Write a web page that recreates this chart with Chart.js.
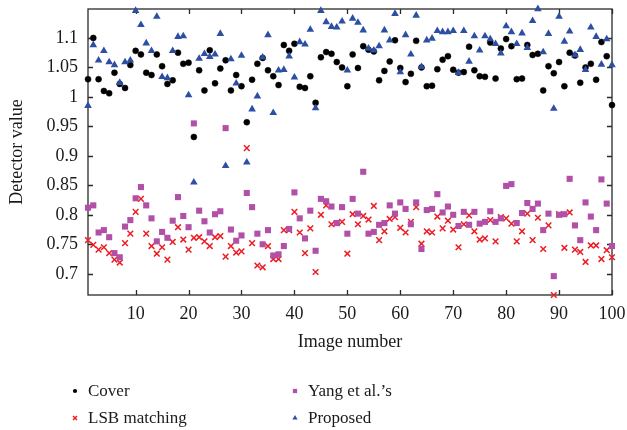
<!DOCTYPE html>
<html>
<head>
<meta charset="utf-8">
<script src="https://cdn.jsdelivr.net/npm/chart.js@4"></script>
<style>
  html, body { margin: 0; padding: 0; background: #fff; }
  #wrap { width: 627px; height: 430px; position: relative; }
</style>
</head>
<body>
<div id="wrap"><canvas id="chartCanvas"></canvas></div>
<script>
// image index 1..100 on the x axis
const imageNumbers = Array.from({ length: 100 }, (_, i) => i + 1);

const seriesNames = ["Cover", "LSB matching", "Yang et al.\u2019s", "Proposed"];

const cover = [
  1.030, 1.100, 1.030, 1.010, 1.006, 1.041, 1.022, 1.015, 1.054, 1.078,
  1.072, 1.041, 1.037, 1.072, 1.052, 1.022, 1.028, 1.075, 1.056, 1.058,
  0.932, 1.045, 1.011, 1.079, 1.023, 1.048, 1.062, 1.011, 1.037, 1.018,
  0.957, 1.029, 1.056, 1.066, 1.045, 1.035, 1.020, 1.088, 1.078, 1.090,
  1.017, 1.015, 1.035, 0.990, 1.067, 1.076, 1.073, 1.059, 1.050, 1.018,
  1.072, 1.049, 1.086, 1.080, 1.077, 1.028, 1.044, 1.060, 1.096, 1.049,
  1.025, 1.039, 1.095, 1.050, 1.018, 1.019, 1.047, 1.063, 1.069, 1.046,
  1.041, 1.042, 1.085, 1.045, 1.035, 1.034, 1.092, 1.031, 1.082, 1.098,
  1.086, 1.030, 1.031, 1.088, 1.071, 1.073, 1.011, 1.052, 1.040, 1.059,
  1.018, 1.075, 1.070, 1.024, 1.050, 1.056, 1.029, 1.093, 1.069, 0.986
];

const lsbMatching = [
  0.757, 0.749, 0.741, 0.745, 0.735, 0.724, 0.719, 0.752, 0.768, 0.805,
  0.827, 0.768, 0.747, 0.734, 0.745, 0.724, 0.754, 0.779, 0.758, 0.741,
  0.761, 0.762, 0.755, 0.747, 0.762, 0.764, 0.729, 0.747, 0.736, 0.738,
  0.913, 0.752, 0.714, 0.711, 0.747, 0.725, 0.725, 0.774, 0.774, 0.805,
  0.770, 0.735, 0.777, 0.703, 0.800, 0.816, 0.784, 0.786, 0.788, 0.734,
  0.801, 0.784, 0.798, 0.792, 0.815, 0.757, 0.772, 0.793, 0.796, 0.778,
  0.770, 0.788, 0.813, 0.751, 0.772, 0.770, 0.797, 0.777, 0.790, 0.775,
  0.745, 0.784, 0.799, 0.772, 0.758, 0.760, 0.791, 0.755, 0.796, 0.794,
  0.785, 0.755, 0.772, 0.802, 0.757, 0.795, 0.742, 0.782, 0.664, 0.801,
  0.744, 0.804, 0.741, 0.737, 0.720, 0.748, 0.748, 0.725, 0.740, 0.728
];

const yang = [
  0.812, 0.816, 0.770, 0.774, 0.762, 0.735, 0.728, 0.780, 0.791, 0.828,
  0.847, 0.816, 0.794, 0.755, 0.771, 0.761, 0.790, 0.830, 0.798, 0.779,
  0.955, 0.807, 0.789, 0.770, 0.801, 0.806, 0.947, 0.775, 0.756, 0.765,
  0.837, 0.813, 0.768, 0.750, 0.774, 0.731, 0.733, 0.747, 0.776, 0.838,
  0.794, 0.760, 0.807, 0.739, 0.827, 0.823, 0.814, 0.786, 0.813, 0.768,
  0.827, 0.802, 0.873, 0.768, 0.771, 0.783, 0.786, 0.816, 0.802, 0.821,
  0.810, 0.784, 0.821, 0.742, 0.808, 0.810, 0.835, 0.804, 0.814, 0.800,
  0.781, 0.805, 0.783, 0.805, 0.785, 0.788, 0.806, 0.788, 0.794, 0.849,
  0.852, 0.786, 0.803, 0.820, 0.810, 0.819, 0.774, 0.802, 0.696, 0.800,
  0.801, 0.861, 0.782, 0.757, 0.821, 0.797, 0.774, 0.860, 0.819, 0.747
];

const proposed = [
  0.985, 1.088, 1.062, 1.078, 1.059, 1.054, 1.024, 1.059, 1.062, 1.146,
  1.122, 1.091, 1.078, 1.136, 1.034, 1.032, 1.078, 1.102, 1.103, 1.003,
  0.855, 1.065, 1.073, 1.068, 1.072, 1.107, 0.883, 1.064, 1.023, 1.070,
  0.889, 0.979, 1.001, 1.067, 1.105, 0.973, 1.045, 1.046, 1.069, 1.033,
  1.093, 1.089, 1.114, 0.981, 1.146, 1.127, 1.119, 1.118, 1.128, 1.045,
  1.133, 1.126, 1.113, 1.082, 1.079, 1.086, 1.113, 1.096, 1.141, 1.042,
  1.105, 1.072, 1.138, 1.051, 1.096, 1.099, 1.112, 1.110, 1.110, 1.112,
  1.041, 1.112, 1.060, 1.103, 1.079, 1.103, 1.098, 1.090, 1.074, 1.120,
  1.110, 1.090, 1.108, 1.083, 1.129, 1.149, 1.076, 1.107, 0.980, 1.136,
  1.094, 1.111, 1.071, 1.080, 1.046, 1.118, 1.102, 1.055, 1.098, 1.054
];

const xTicks = [10, 20, 30, 40, 50, 60, 70, 80, 90, 100];
const yTicks = [0.7, 0.75, 0.8, 0.85, 0.9, 0.95, 1, 1.05, 1.1];
const yTickLabels = ["0.7", "0.75", "0.8", "0.85", "0.9", "0.95", "1", "1.05", "1.1"];

const FONT = "'Liberation Serif', 'DejaVu Serif', serif";
const AXIS = "#2a2a2a";
const TEXT = "#1a1a1a";

const toPoints = vals => imageNumbers.map((n, i) => ({ x: n, y: vals[i] }));

const styles = [
  { pointStyle: "circle", radius: 3, bg: "#000000", border: "#000000", bw: 0.5 },
  { pointStyle: "crossRot", radius: 4, bg: "#ec1c24", border: "#ec1c24", bw: 1.5 },
  { pointStyle: "rect", radius: 4.3, bg: "#b24fa6", border: "#b24fa6", bw: 0 },
  { pointStyle: "triangle", radius: 4.4, bg: "#2c4ea3", border: "#2c4ea3", bw: 0 },
];

// frame round the plot with the small inward ticks
const framePlugin = {
  id: "frame",
  beforeDatasetsDraw(chart) {
    const { ctx, chartArea: a, scales } = chart;
    ctx.save();
    ctx.strokeStyle = AXIS;
    ctx.lineWidth = 1.3;
    ctx.strokeRect(a.left, a.top, a.right - a.left, a.bottom - a.top);
    ctx.beginPath();
    xTicks.forEach(v => {
      const px = Math.round(scales.x.getPixelForValue(v)) + 0.5;
      ctx.moveTo(px, a.bottom); ctx.lineTo(px, a.bottom - 5);
      ctx.moveTo(px, a.top); ctx.lineTo(px, a.top + 5);
    });
    yTicks.forEach(v => {
      const py = Math.round(scales.y.getPixelForValue(v)) + 0.5;
      ctx.moveTo(a.left, py); ctx.lineTo(a.left + 5, py);
      ctx.moveTo(a.right, py); ctx.lineTo(a.right - 5, py);
    });
    ctx.stroke();
    ctx.restore();
  }
};

// two-column legend under the axis title
const legendPlugin = {
  id: "legend2col",
  afterDraw(chart) {
    const { ctx } = chart;
    const spots = [[75, 391], [75, 418], [295, 391], [295, 418]];
    ctx.save();
    seriesNames.forEach((name, i) => {
      const s = styles[i];
      const [x, y] = spots[i];
      ctx.fillStyle = s.bg;
      ctx.strokeStyle = s.border;
      Chart.helpers.drawPoint(ctx, {
        pointStyle: s.pointStyle,
        radius: s.radius * 0.7,
        borderWidth: s.pointStyle === "crossRot" ? 1.3 : 0,
        rotation: 0
      }, x, y);
      ctx.fillStyle = TEXT;
      ctx.font = "17px " + FONT;
      ctx.textBaseline = "middle";
      ctx.textAlign = "left";
      ctx.fillText(name, x + 13, y + 1);
    });
    ctx.restore();
  }
};

const datasets = [cover, lsbMatching, yang, proposed].map((vals, i) => ({
  label: seriesNames[i],
  data: toPoints(vals),
  pointStyle: styles[i].pointStyle,
  pointRadius: styles[i].radius,
  pointBackgroundColor: styles[i].bg,
  pointBorderColor: styles[i].border,
  pointBorderWidth: styles[i].bw,
  showLine: false,
  clip: false,
  order: 3 - i,
}));

new Chart(document.getElementById("chartCanvas"), {
  type: "scatter",
  data: { datasets },
  plugins: [framePlugin, legendPlugin],
  options: {
    responsive: true,
    maintainAspectRatio: false,
    animation: false,
    layout: { padding: { left: 0, top: 9, right: 15, bottom: 73 } },
    plugins: { legend: { display: false }, tooltip: { enabled: false } },
    scales: {
      x: {
        type: "linear",
        min: 1,
        max: 100,
        afterBuildTicks: s => { s.ticks = xTicks.map(v => ({ value: v })); },
        afterFit: s => { s.height = 62; s.paddingLeft = 0; s.paddingRight = 0; },
        grid: { display: false, drawTicks: false },
        border: { display: false },
        ticks: { padding: 8, color: TEXT, font: { family: FONT, size: 18 }, maxRotation: 0 },
        title: { display: true, text: "Image number", color: TEXT,
                 font: { family: FONT, size: 18 }, padding: { top: 0, bottom: 4 } }
      },
      y: {
        type: "linear",
        min: 0.664,
        max: 1.149,
        afterBuildTicks: s => { s.ticks = yTicks.map(v => ({ value: v })); },
        afterFit: s => { s.width = 88; s.paddingTop = 0; s.paddingBottom = 0; },
        grid: { display: false, drawTicks: false },
        border: { display: false },
        ticks: {
          padding: 10, color: TEXT, font: { family: FONT, size: 18 },
          callback: v => yTickLabels[yTicks.indexOf(v)] ?? ""
        },
        title: { display: true, text: "Detector value", color: TEXT,
                 font: { family: FONT, size: 18 }, padding: { top: 6, bottom: 0 } }
      }
    }
  }
});
</script>
</body>
</html>
